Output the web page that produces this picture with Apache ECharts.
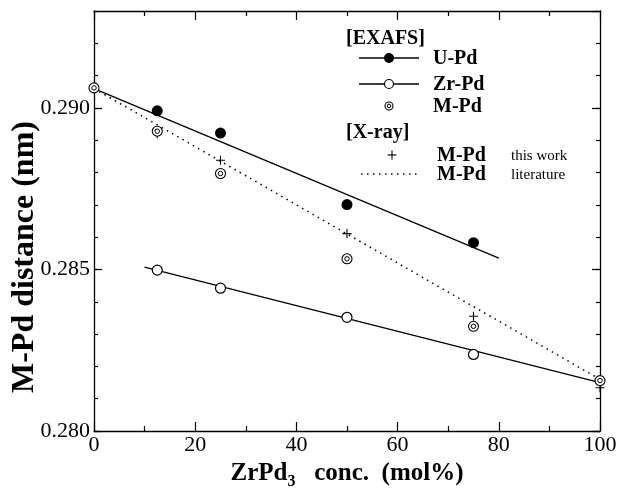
<!DOCTYPE html>
<html><head><meta charset="utf-8">
<script src="https://cdn.jsdelivr.net/npm/echarts@6/dist/echarts.min.js"></script>
<style>html,body{margin:0;padding:0;background:#fff}#c{width:623px;height:495px}</style>
</head><body><div id="c"></div>
<script>
// ---- data ----
const xTickLabels = ['0', '20', '40', '60', '80', '100'];
const yTickLabels = ['0.280', '0.285', '0.290'];
const uPdConc = [12.5, 25, 50, 75];
const uPd = [0.28991, 0.28922, 0.28701, 0.28583];
const zrPdConc = [12.5, 25, 50, 75];
const zrPd = [0.28498, 0.28442, 0.28352, 0.28237];
const mPdConc = [0, 12.5, 25, 50, 75, 100];
const mPdExafs = [0.29062, 0.28928, 0.28797, 0.28533, 0.28324, 0.28156];
const xrayConc = [12.5, 25, 50, 75, 100];
const mPdXray = [0.2892, 0.28838, 0.28611, 0.28355, 0.28134];
const uPdFitConc = [0, 80];
const uPdFit = [0.2906, 0.28535];
const zrPdFitConc = [10, 100];
const zrPdFit = [0.28507, 0.2815];
const litConc = [0, 100];
const litFit = [0.2906, 0.2816];

const pairs = (xs, ys) => xs.map((x, i) => [x, ys[i]]);
const SERIF = '"Liberation Serif", "Times New Roman", serif';
const INK = '#000';
const axisLine = { show: true, lineStyle: { color: INK, width: 1.3 } };

function xAx(pos, labels) {
  return {
    type: 'value', position: pos, min: 0, max: 100, interval: 20,
    axisLine: axisLine,
    axisTick: { show: true, inside: true, length: 9, lineStyle: { color: INK, width: 1.2 } },
    minorTick: { show: true, splitNumber: 2, length: 5, lineStyle: { color: INK, width: 1.2 } },
    splitLine: { show: false }, minorSplitLine: { show: false },
    axisLabel: labels ? {
      show: true, color: INK, fontFamily: SERIF, fontSize: 22, margin: 3,
      formatter: v => xTickLabels.includes(String(v)) ? String(v) : ''
    } : { show: false }
  };
}
function yAx(pos, interval, len, labels, line) {
  return {
    type: 'value', position: pos, offset: 0, min: 0.280, max: 0.293, interval: interval,
    axisLine: line ? axisLine : { show: false },
    axisTick: { show: true, inside: true, length: len, lineStyle: { color: INK, width: 1.2 } },
    splitLine: { show: false },
    axisLabel: labels ? {
      show: true, color: INK, fontFamily: SERIF, fontSize: 22, margin: 4, showMaxLabel: false,
      formatter: v => { const s = v.toFixed(3); return yTickLabels.includes(s) ? s : ''; }
    } : { show: false }
  };
}

const xBottom = xAx('bottom', true);
xBottom.name = '{a|ZrPd}{s|3}{a|   conc.  (mol%)}';
xBottom.nameLocation = 'middle';
xBottom.nameGap = 22;
xBottom.nameTextStyle = {
  rich: {
    a: { fontFamily: SERIF, fontWeight: 'bold', fontSize: 25, lineHeight: 32, color: INK },
    s: { fontFamily: SERIF, fontWeight: 'bold', fontSize: 16, lineHeight: 16, verticalAlign: 'bottom', color: INK }
  }
};

const legendFont = 'bold 20px ' + SERIF;
const noteFont = '15px ' + SERIF;
const blk = { stroke: INK, lineWidth: 1.3 };
function txt(x, y, t, font) {
  return { type: 'text', x: x, y: y, style: { text: t, font: font, fill: INK, textVerticalAlign: 'middle' } };
}

const option = {
  animation: false,
  backgroundColor: '#fff',
  grid: { left: 94, right: 23, top: 11, bottom: 64, containLabel: false },
  xAxis: [xBottom, xAx('top', false)],
  yAxis: [
    yAx('left', 0.005, 8, true, true),
    yAx('left', 0.001, 4, false, false),
    yAx('right', 0.005, 8, false, true),
    yAx('right', 0.001, 4, false, false)
  ],
  series: [
    { type: 'line', data: pairs(uPdFitConc, uPdFit), symbol: 'none', lineStyle: { color: INK, width: 1.3 }, z: 2 },
    { type: 'line', data: pairs(zrPdFitConc, zrPdFit), symbol: 'none', lineStyle: { color: INK, width: 1.3 }, z: 2 },
    { type: 'line', data: pairs(litConc, litFit), symbol: 'none', lineStyle: { color: INK, width: 1.5, type: [1.5, 4.5] }, z: 2 },
    { type: 'scatter', data: pairs(uPdConc, uPd), symbol: 'circle', symbolSize: 11, itemStyle: { color: INK, opacity: 1 }, z: 5 },
    { type: 'scatter', data: pairs(zrPdConc, zrPd), symbol: 'circle', symbolSize: 10, itemStyle: { color: '#fff', borderColor: INK, borderWidth: 1.2, opacity: 1 }, z: 5 },
    { type: 'scatter', data: pairs(mPdConc, mPdExafs), symbol: 'circle', symbolSize: 10, itemStyle: { color: '#fff', borderColor: INK, borderWidth: 1.1, opacity: 1 }, z: 5 },
    { type: 'scatter', data: pairs(mPdConc, mPdExafs), symbol: 'circle', symbolSize: 4.5, itemStyle: { color: '#fff', borderColor: INK, borderWidth: 1, opacity: 1 }, z: 6 },
    { type: 'scatter', data: pairs(xrayConc, mPdXray), symbol: 'path://M0 5 L10 5 M5 0 L5 10', symbolSize: 9, itemStyle: { color: 'transparent', borderColor: INK, borderWidth: 1.1, opacity: 1 }, z: 4 }
  ],
  graphic: [
    { type: 'text', x: 25, y: 257, rotation: Math.PI / 2,
      style: { text: 'M-Pd distance (nm)', font: 'bold 32px ' + SERIF, fill: INK, textAlign: 'center', textVerticalAlign: 'middle' } },
    txt(346, 39, '[EXAFS]', legendFont),
    { type: 'line', shape: { x1: 359, y1: 58, x2: 419, y2: 58 }, style: blk },
    { type: 'circle', shape: { cx: 389, cy: 58, r: 5 }, style: { fill: INK } },
    txt(433, 59, 'U-Pd', legendFont),
    { type: 'line', shape: { x1: 359, y1: 84, x2: 419, y2: 84 }, style: blk },
    { type: 'circle', shape: { cx: 389, cy: 84, r: 4.5 }, style: { fill: '#fff', stroke: INK, lineWidth: 1.2 } },
    txt(433, 85, 'Zr-Pd', legendFont),
    { type: 'circle', shape: { cx: 389, cy: 106, r: 4 }, style: { fill: '#fff', stroke: INK, lineWidth: 1.1 } },
    { type: 'circle', shape: { cx: 389, cy: 106, r: 1.8 }, style: { fill: '#fff', stroke: INK, lineWidth: 1 } },
    txt(433, 107, 'M-Pd', legendFont),
    txt(346, 133, '[X-ray]', legendFont),
    { type: 'line', shape: { x1: 387.5, y1: 155, x2: 396.5, y2: 155 }, style: { stroke: INK, lineWidth: 1.1 } },
    { type: 'line', shape: { x1: 392, y1: 150.5, x2: 392, y2: 159.5 }, style: { stroke: INK, lineWidth: 1.1 } },
    txt(437, 156, 'M-Pd', legendFont),
    txt(511, 156, 'this work', noteFont),
    { type: 'line', shape: { x1: 361, y1: 174, x2: 417, y2: 174 }, style: { stroke: INK, lineWidth: 1.5, lineDash: [1.5, 4.5] } },
    txt(437, 175, 'M-Pd', legendFont),
    txt(511, 175, 'literature', noteFont)
  ]
};
const chart = echarts.init(document.getElementById('c'), null, { renderer: 'canvas' });
chart.setOption(option);
</script></body></html>
